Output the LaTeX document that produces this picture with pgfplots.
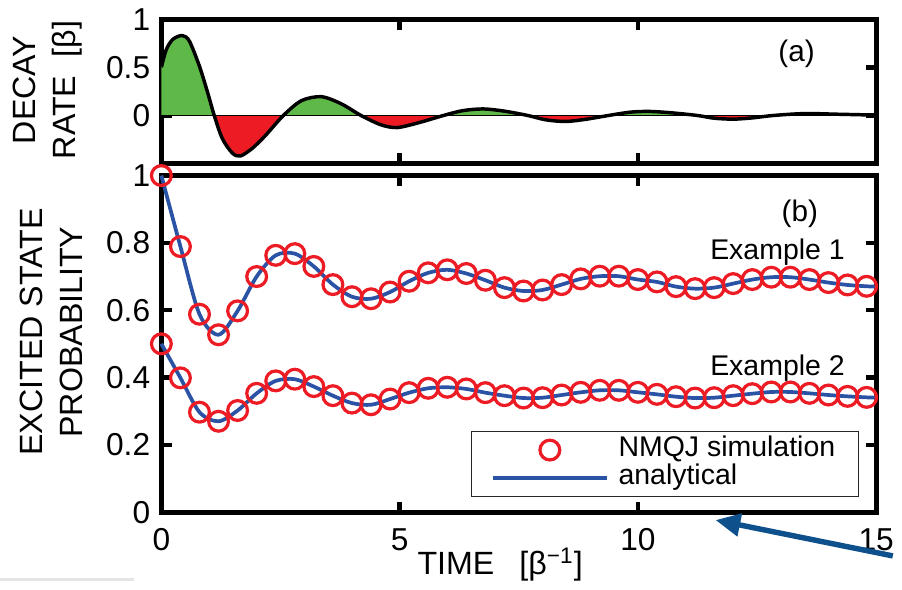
\documentclass[border=0pt]{standalone}
\usepackage{fontspec}
\setmainfont{Liberation Sans}
\usepackage{pgfplots}
\usepackage{pgfplotstable}
\pgfplotsset{compat=1.18}
\usepgfplotslibrary{fillbetween}
\usetikzlibrary{arrows.meta}

\definecolor{rategreen}{RGB}{95,185,72}
\definecolor{ratered}{RGB}{237,28,36}
\definecolor{simred}{RGB}{237,28,36}
\definecolor{anblue}{RGB}{42,82,165}
\definecolor{arrowblue}{RGB}{14,80,140}

% decay rate, panel (a)
\pgfplotstableread{
t     g
0     0.50
0.10  0.68
0.24  0.79
0.44  0.83
0.59  0.77
0.80  0.51
0.97  0.24
1.11  0
1.28  -0.24
1.49  -0.39
1.66  -0.42
1.91  -0.34
2.18  -0.21
2.56  0
2.94  0.154
3.36  0.195
3.78  0.12
4.19  0
4.61  -0.097
4.95  -0.125
5.40  -0.075
5.92  0
6.32  0.05
6.75  0.068
7.20  0.045
7.69  0
8.07  -0.045
8.48  -0.062
8.90  -0.04
9.38  0
9.85  0.035
10.25 0.042
10.70 0.028
11.25 0
11.60 -0.028
12.00 -0.038
12.40 -0.025
12.84 0
13.50 0.02
14.20 0.013
15.00 0.004
}\ratetab

% excited state probability, panel (b)
\pgfplotstableread{
t     p1     p2
0.0   1.000  0.500
0.4   0.789  0.399
0.8   0.588  0.297
1.2   0.527  0.270
1.6   0.598  0.302
2.0   0.700  0.353
2.4   0.763  0.390
2.8   0.768  0.395
3.2   0.730  0.373
3.6   0.676  0.346
4.0   0.640  0.324
4.4   0.634  0.319
4.8   0.654  0.336
5.2   0.686  0.355
5.6   0.711  0.368
6.0   0.720  0.371
6.4   0.709  0.366
6.8   0.689  0.355
7.2   0.667  0.346
7.6   0.657  0.339
8.0   0.660  0.340
8.4   0.676  0.348
8.8   0.693  0.356
9.2   0.701  0.362
9.6   0.701  0.362
10.0  0.691  0.356
10.4  0.684  0.350
10.8  0.670  0.343
11.2  0.664  0.339
11.6  0.667  0.340
12.0  0.679  0.346
12.4  0.691  0.352
12.8  0.698  0.357
13.2  0.698  0.357
13.6  0.691  0.353
14.0  0.682  0.348
14.4  0.675  0.344
14.8  0.671  0.341
15.0  0.670  0.340
}\probtab

\pgfplotsset{
  panel/.style={
    scale only axis, width=288.8pt, xmin=0, xmax=15,
    axis line style={line width=2pt},
    tick align=inside, major tick length=4.2pt,
    tick style={black, line width=1.8pt},
    xtick={0,5,10,15},
    /pgf/number format/assume math mode=true,
    tick label style={font=\fontsize{12.8}{15}\selectfont},
    label style={font=\fontsize{13}{16}\selectfont},
  },
  markleg/.style={legend image code/.code={%
    \draw[mark repeat=2, mark phase=2, ##1] plot coordinates {(0pt,0pt) (23pt,0pt) (46pt,0pt)};}},
  lineleg/.style={legend image code/.code={%
    \draw[##1] (0pt,0pt) -- (46pt,0pt);}},
}

\begin{document}
\begin{tikzpicture}

% (b) probability
\begin{axis}[panel,
  at={(0pt,0pt)}, anchor=south west, height=136pt,
  ymin=0, ymax=1, ytick={0,0.2,0.4,0.6,0.8,1},
  clip=false,
  xticklabel style={yshift=-3pt},
  yticklabel style={xshift=-1pt},
  xlabel={TIME\hspace{0.5em} [β\textsuperscript{−1}]},
  xlabel style={at={(axis description cs:0.474,-0.156)}, anchor=center},
  ylabel={EXCITED STATE\\PROBABILITY},
  ylabel style={align=center, at={(axis description cs:-0.154,0.535)}, anchor=center},
  legend style={at={(0.9767,0.044)}, anchor=south east, draw=black!85, line width=0.6pt,
    font=\fontsize{11.5}{13}\selectfont, inner xsep=8pt, inner ysep=1.5pt, row sep=-1pt,
    column sep=2.5pt, nodes={inner sep=1.5pt, text height=0.72em, text depth=0.2em}},
  legend cell align=left,
]
\addplot[only marks, mark=o, simred, mark size=4pt, mark options={line width=1.3pt},
  skip coords between index={38}{39}, markleg]
  table[x=t, y=p1] {\probtab};
\addlegendentry{NMQJ simulation}
\addplot[anblue, line width=1.5pt, smooth, no marks, lineleg]
  table[x=t, y=p1] {\probtab};
\addlegendentry{analytical}
\addplot[only marks, mark=o, simred, mark size=4pt, mark options={line width=1.3pt},
  skip coords between index={38}{39}, forget plot]
  table[x=t, y=p2] {\probtab};
\addplot[anblue, line width=1.5pt, smooth, no marks, forget plot]
  table[x=t, y=p2] {\probtab};

\node[font=\fontsize{12}{14}\selectfont] at (axis cs:13.4,0.887) {(b)};
\node[font=\fontsize{11.5}{13}\selectfont, anchor=base] at (axis cs:12.93,0.75) {Example 1};
\node[font=\fontsize{11.5}{13}\selectfont, anchor=base] at (axis cs:12.93,0.406) {Example 2};

\draw[arrowblue, line width=2.2pt, -{Triangle[length=10pt, width=9pt]}]
  (axis cs:15.35,-0.130) -- (axis cs:11.63,-0.0235);
\end{axis}

% (a) decay rate
\begin{axis}[panel,
  at={(0pt,140.8pt)}, anchor=south west, height=58.4pt,
  ymin=-0.5, ymax=1, ytick={0,0.5,1},
  xticklabels={},
  yticklabel style={xshift=-1pt},
  ylabel={DECAY\\RATE\hspace{0.3em} [β]},
  ylabel style={align=center, at={(axis description cs:-0.159,0.51)}, anchor=center},
]
\addplot[name path=zero, draw=none, forget plot] coordinates {(0,0) (15,0)};
\addplot[name path=rate, draw=none, smooth, forget plot] table[x=t, y=g] {\ratetab};
\addplot[draw=none, forget plot] fill between[of=rate and zero, split,
  every even segment/.style={fill=rategreen},
  every odd segment/.style={fill=ratered}];
\addplot[black, line width=0.6pt, forget plot] coordinates {(0,0) (15,0)};
\addplot[black, line width=1.4pt, smooth, forget plot] table[x=t, y=g] {\ratetab};
\node[font=\fontsize{12}{14}\selectfont] at (axis cs:13.33,0.64) {(a)};
\end{axis}

\fill[black!10] (-65.2pt,-28pt) rectangle (-11.2pt,-26.8pt);
\path (-65.2pt,-28pt) rectangle (295.6pt,206pt);
\end{tikzpicture}
\end{document}
